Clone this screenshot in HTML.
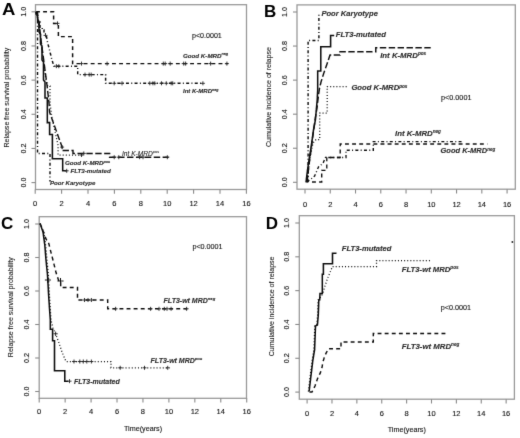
<!DOCTYPE html>
<html><head><meta charset="utf-8"><style>
html,body{margin:0;padding:0;background:#fff;}
svg{display:block;}
text{font-family:"Liberation Sans", sans-serif;}
.tk{font-size:7.5px;fill:#141414;stroke:#141414;stroke-width:0.12px;}
.tt{font-size:7.05px;fill:#141414;stroke:#141414;stroke-width:0.08px;}
.lt{font-size:17px;font-weight:bold;fill:#000;}
.cl{font-weight:bold;font-style:italic;fill:#2e2e2e;stroke:#2e2e2e;stroke-width:0.14px;}
</style></head><body>
<svg width="520" height="438" viewBox="0 0 520 438">
<defs><filter id="bl" x="0" y="0" width="520" height="438" filterUnits="userSpaceOnUse"><feConvolveMatrix order="3" kernelMatrix="0.0074 0.0713 0.0074 0.0713 0.6853 0.0713 0.0074 0.0713 0.0074" edgeMode="none"/></filter></defs>
<rect width="520" height="438" fill="#fff"/>
<g filter="url(#bl)">
<rect x="35.5" y="4.7" width="211.00" height="184.80" fill="none" stroke="#9a9a9a" stroke-width="1.3"/>
<line x1="31.50" y1="182.60" x2="35.50" y2="182.60" stroke="#8a8a8a" stroke-width="1.1"/>
<text x="23.60" y="182.60" transform="rotate(-90 23.60 182.60)" class="tk" style="font-size:7.2px" text-anchor="middle" dy="0.36em">0<tspan fill-opacity="0.25">.</tspan>0</text>
<line x1="31.50" y1="148.44" x2="35.50" y2="148.44" stroke="#8a8a8a" stroke-width="1.1"/>
<text x="23.60" y="148.44" transform="rotate(-90 23.60 148.44)" class="tk" style="font-size:7.2px" text-anchor="middle" dy="0.36em">0<tspan fill-opacity="0.25">.</tspan>2</text>
<line x1="31.50" y1="114.28" x2="35.50" y2="114.28" stroke="#8a8a8a" stroke-width="1.1"/>
<text x="23.60" y="114.28" transform="rotate(-90 23.60 114.28)" class="tk" style="font-size:7.2px" text-anchor="middle" dy="0.36em">0<tspan fill-opacity="0.25">.</tspan>4</text>
<line x1="31.50" y1="80.12" x2="35.50" y2="80.12" stroke="#8a8a8a" stroke-width="1.1"/>
<text x="23.60" y="80.12" transform="rotate(-90 23.60 80.12)" class="tk" style="font-size:7.2px" text-anchor="middle" dy="0.36em">0<tspan fill-opacity="0.25">.</tspan>6</text>
<line x1="31.50" y1="45.96" x2="35.50" y2="45.96" stroke="#8a8a8a" stroke-width="1.1"/>
<text x="23.60" y="45.96" transform="rotate(-90 23.60 45.96)" class="tk" style="font-size:7.2px" text-anchor="middle" dy="0.36em">0<tspan fill-opacity="0.25">.</tspan>8</text>
<line x1="31.50" y1="11.80" x2="35.50" y2="11.80" stroke="#8a8a8a" stroke-width="1.1"/>
<text x="23.60" y="11.80" transform="rotate(-90 23.60 11.80)" class="tk" style="font-size:7.2px" text-anchor="middle" dy="0.36em">1<tspan fill-opacity="0.25">.</tspan>0</text>
<line x1="35.20" y1="189.50" x2="35.20" y2="193.80" stroke="#8a8a8a" stroke-width="1.1"/>
<text x="35.20" y="203.40" class="tk" text-anchor="middle" dy="0.36em">0</text>
<line x1="61.60" y1="189.50" x2="61.60" y2="193.80" stroke="#8a8a8a" stroke-width="1.1"/>
<text x="61.60" y="203.40" class="tk" text-anchor="middle" dy="0.36em">2</text>
<line x1="88.00" y1="189.50" x2="88.00" y2="193.80" stroke="#8a8a8a" stroke-width="1.1"/>
<text x="88.00" y="203.40" class="tk" text-anchor="middle" dy="0.36em">4</text>
<line x1="114.40" y1="189.50" x2="114.40" y2="193.80" stroke="#8a8a8a" stroke-width="1.1"/>
<text x="114.40" y="203.40" class="tk" text-anchor="middle" dy="0.36em">6</text>
<line x1="140.80" y1="189.50" x2="140.80" y2="193.80" stroke="#8a8a8a" stroke-width="1.1"/>
<text x="140.80" y="203.40" class="tk" text-anchor="middle" dy="0.36em">8</text>
<line x1="167.20" y1="189.50" x2="167.20" y2="193.80" stroke="#8a8a8a" stroke-width="1.1"/>
<text x="167.20" y="203.40" class="tk" text-anchor="middle" dy="0.36em">10</text>
<line x1="193.60" y1="189.50" x2="193.60" y2="193.80" stroke="#8a8a8a" stroke-width="1.1"/>
<text x="193.60" y="203.40" class="tk" text-anchor="middle" dy="0.36em">12</text>
<line x1="220.00" y1="189.50" x2="220.00" y2="193.80" stroke="#8a8a8a" stroke-width="1.1"/>
<text x="220.00" y="203.40" class="tk" text-anchor="middle" dy="0.36em">14</text>
<line x1="246.40" y1="189.50" x2="246.40" y2="193.80" stroke="#8a8a8a" stroke-width="1.1"/>
<text x="246.40" y="203.40" class="tk" text-anchor="middle" dy="0.36em">16</text>
<text x="6.30" y="97.60" transform="rotate(-90 6.30 97.60)" class="tt" text-anchor="middle" dy="0.36em">Relapse free survival probability</text>
<text x="0" y="0" class="lt" transform="translate(2.00 15.00) scale(1.09 1)">A</text>
<path d="M36 11.8H53.6V23.4H58.4V36.6H72.6V63.6H228" fill="none" stroke="#111" stroke-width="1.45" stroke-dasharray="3.9 3.2"/>
<path d="M55.50 23.40H59.50M57.50 21.40V25.40" stroke="#222" stroke-width="0.9" fill="none"/>
<path d="M79.50 63.60H83.50M81.50 61.60V65.60" stroke="#222" stroke-width="0.9" fill="none"/>
<path d="M105.10 63.60H109.10M107.10 61.60V65.60" stroke="#222" stroke-width="0.9" fill="none"/>
<path d="M161.30 63.60H165.30M163.30 61.60V65.60" stroke="#222" stroke-width="0.9" fill="none"/>
<path d="M163.20 63.60H167.20M165.20 61.60V65.60" stroke="#222" stroke-width="0.9" fill="none"/>
<path d="M168.20 63.60H172.20M170.20 61.60V65.60" stroke="#222" stroke-width="0.9" fill="none"/>
<path d="M181.70 63.60H185.70M183.70 61.60V65.60" stroke="#222" stroke-width="0.9" fill="none"/>
<path d="M183.60 63.60H187.60M185.60 61.60V65.60" stroke="#222" stroke-width="0.9" fill="none"/>
<path d="M208.60 63.60H212.60M210.60 61.60V65.60" stroke="#222" stroke-width="0.9" fill="none"/>
<path d="M224.90 63.60H228.90M226.90 61.60V65.60" stroke="#222" stroke-width="0.9" fill="none"/>
<path d="M36 11.8V16H38V22H40V28H42.2V30H44V34H46.3V35.5L47.5 42L49 48L50.5 54L52 60L53.9 66.2H77.7V74.6H105.6V83.3H203" fill="none" stroke="#111" stroke-width="1.45" stroke-dasharray="3 2.3 1 2.3"/>
<path d="M43.50 35.40H47.50M45.50 33.40V37.40" stroke="#222" stroke-width="0.9" fill="none"/>
<path d="M54.40 66.20H58.40M56.40 64.20V68.20" stroke="#222" stroke-width="0.9" fill="none"/>
<path d="M56.80 66.20H60.80M58.80 64.20V68.20" stroke="#222" stroke-width="0.9" fill="none"/>
<path d="M83.00 74.60H87.00M85.00 72.60V76.60" stroke="#222" stroke-width="0.9" fill="none"/>
<path d="M87.20 74.60H91.20M89.20 72.60V76.60" stroke="#222" stroke-width="0.9" fill="none"/>
<path d="M89.20 74.60H93.20M91.20 72.60V76.60" stroke="#222" stroke-width="0.9" fill="none"/>
<path d="M112.20 83.30H116.20M114.20 81.30V85.30" stroke="#222" stroke-width="0.9" fill="none"/>
<path d="M120.00 83.30H124.00M122.00 81.30V85.30" stroke="#222" stroke-width="0.9" fill="none"/>
<path d="M147.80 83.30H151.80M149.80 81.30V85.30" stroke="#222" stroke-width="0.9" fill="none"/>
<path d="M150.90 83.30H154.90M152.90 81.30V85.30" stroke="#222" stroke-width="0.9" fill="none"/>
<path d="M152.80 83.30H156.80M154.80 81.30V85.30" stroke="#222" stroke-width="0.9" fill="none"/>
<path d="M159.50 83.30H163.50M161.50 81.30V85.30" stroke="#222" stroke-width="0.9" fill="none"/>
<path d="M164.30 83.30H168.30M166.30 81.30V85.30" stroke="#222" stroke-width="0.9" fill="none"/>
<path d="M169.20 83.30H173.20M171.20 81.30V85.30" stroke="#222" stroke-width="0.9" fill="none"/>
<path d="M170.70 83.30H174.70M172.70 81.30V85.30" stroke="#222" stroke-width="0.9" fill="none"/>
<path d="M200.90 83.30H204.90M202.90 81.30V85.30" stroke="#222" stroke-width="0.9" fill="none"/>
<path d="M37.5 11.8V153.5H50V181.5" fill="none" stroke="#111" stroke-width="1.45" stroke-dasharray="3 2.3 1 2.3"/>
<path d="M36 11.8L37.5 14V20L39 22V32L40.5 34V44L42 46V60L43.5 62V80L45 82V98H47.3V122.6H49.6V134.5H52.4V158.7H62.7V170.8H66.7" fill="none" stroke="#111" stroke-width="1.55"/>
<path d="M64.70 170.80H68.70M66.70 168.80V172.80" stroke="#222" stroke-width="0.9" fill="none"/>
<path d="M36 11.8L38 20L40 35L42 50L44 65L46 80L47.7 86H50V98L50 103L51.8 116.8L58.1 145.4V155H82.7" fill="none" stroke="#111" stroke-width="1.25" stroke-dasharray="1 2.1"/>
<path d="M79.50 155.00H83.50M81.50 153.00V157.00" stroke="#222" stroke-width="0.9" fill="none"/>
<path d="M36 11.8L39 22L41 40L43 55L45 70L47 85L49 103L49.6 112.3L62.1 147.1V150.5H73V153.4H109.6V157.2H168.5" fill="none" stroke="#111" stroke-width="1.45" stroke-dasharray="6.4 2.5"/>
<path d="M60.10 147.10H64.10M62.10 145.10V149.10" stroke="#222" stroke-width="0.9" fill="none"/>
<path d="M81.80 153.40H85.80M83.80 151.40V155.40" stroke="#222" stroke-width="0.9" fill="none"/>
<path d="M112.20 157.20H116.20M114.20 155.20V159.20" stroke="#222" stroke-width="0.9" fill="none"/>
<path d="M116.80 157.20H120.80M118.80 155.20V159.20" stroke="#222" stroke-width="0.9" fill="none"/>
<path d="M137.60 157.20H141.60M139.60 155.20V159.20" stroke="#222" stroke-width="0.9" fill="none"/>
<path d="M141.00 157.20H145.00M143.00 155.20V159.20" stroke="#222" stroke-width="0.9" fill="none"/>
<path d="M165.30 157.20H169.30M167.30 155.20V159.20" stroke="#222" stroke-width="0.9" fill="none"/>
<text x="183.00" y="55.40" dy="0.36em" class="cl" style="font-size:6.2px;">Good K-MRD<tspan style="font-size:3.72px" dy="-2.17">neg</tspan></text>
<text x="183.00" y="91.20" dy="0.36em" class="cl" style="font-size:6.0px;">Int K-MRD<tspan style="font-size:3.60px" dy="-2.10">neg</tspan></text>
<text x="122.00" y="153.20" dy="0.36em" class="cl" style="font-size:6.6px;font-weight:normal;fill:#2a2a2a;stroke:#2a2a2a;stroke-width:0.1px">Int K-MRD<tspan style="font-size:3.96px" dy="-2.31">pos</tspan></text>
<text x="65.00" y="162.60" dy="0.36em" class="cl" style="font-size:6.2px;">Good K-MRD<tspan style="font-size:3.72px" dy="-2.17">pos</tspan></text>
<text x="70.40" y="171.20" dy="0.36em" class="cl" style="font-size:6.2px;">FLT3-mutated</text>
<text x="50.00" y="182.60" dy="0.36em" class="cl" style="font-size:6.1px;">Poor Karyotype</text>
<text x="192.00" y="35.80" dy="0.36em" class="tk" text-anchor="start" style="font-size:7.1px">p&lt;0.0001</text>
<rect x="297.0" y="4.9" width="218.30" height="184.30" fill="none" stroke="#9a9a9a" stroke-width="1.3"/>
<line x1="293.00" y1="182.30" x2="297.00" y2="182.30" stroke="#8a8a8a" stroke-width="1.1"/>
<text x="284.90" y="182.30" transform="rotate(-90 284.90 182.30)" class="tk" style="font-size:7.2px" text-anchor="middle" dy="0.36em">0<tspan fill-opacity="0.25">.</tspan>0</text>
<line x1="293.00" y1="148.24" x2="297.00" y2="148.24" stroke="#8a8a8a" stroke-width="1.1"/>
<text x="284.90" y="148.24" transform="rotate(-90 284.90 148.24)" class="tk" style="font-size:7.2px" text-anchor="middle" dy="0.36em">0<tspan fill-opacity="0.25">.</tspan>2</text>
<line x1="293.00" y1="114.18" x2="297.00" y2="114.18" stroke="#8a8a8a" stroke-width="1.1"/>
<text x="284.90" y="114.18" transform="rotate(-90 284.90 114.18)" class="tk" style="font-size:7.2px" text-anchor="middle" dy="0.36em">0<tspan fill-opacity="0.25">.</tspan>4</text>
<line x1="293.00" y1="80.12" x2="297.00" y2="80.12" stroke="#8a8a8a" stroke-width="1.1"/>
<text x="284.90" y="80.12" transform="rotate(-90 284.90 80.12)" class="tk" style="font-size:7.2px" text-anchor="middle" dy="0.36em">0<tspan fill-opacity="0.25">.</tspan>6</text>
<line x1="293.00" y1="46.06" x2="297.00" y2="46.06" stroke="#8a8a8a" stroke-width="1.1"/>
<text x="284.90" y="46.06" transform="rotate(-90 284.90 46.06)" class="tk" style="font-size:7.2px" text-anchor="middle" dy="0.36em">0<tspan fill-opacity="0.25">.</tspan>8</text>
<line x1="293.00" y1="12.00" x2="297.00" y2="12.00" stroke="#8a8a8a" stroke-width="1.1"/>
<text x="284.90" y="12.00" transform="rotate(-90 284.90 12.00)" class="tk" style="font-size:7.2px" text-anchor="middle" dy="0.36em">1<tspan fill-opacity="0.25">.</tspan>0</text>
<line x1="305.00" y1="189.20" x2="305.00" y2="193.50" stroke="#8a8a8a" stroke-width="1.1"/>
<text x="305.00" y="203.80" class="tk" text-anchor="middle" dy="0.36em">0</text>
<line x1="330.26" y1="189.20" x2="330.26" y2="193.50" stroke="#8a8a8a" stroke-width="1.1"/>
<text x="330.26" y="203.80" class="tk" text-anchor="middle" dy="0.36em">2</text>
<line x1="355.52" y1="189.20" x2="355.52" y2="193.50" stroke="#8a8a8a" stroke-width="1.1"/>
<text x="355.52" y="203.80" class="tk" text-anchor="middle" dy="0.36em">4</text>
<line x1="380.78" y1="189.20" x2="380.78" y2="193.50" stroke="#8a8a8a" stroke-width="1.1"/>
<text x="380.78" y="203.80" class="tk" text-anchor="middle" dy="0.36em">6</text>
<line x1="406.04" y1="189.20" x2="406.04" y2="193.50" stroke="#8a8a8a" stroke-width="1.1"/>
<text x="406.04" y="203.80" class="tk" text-anchor="middle" dy="0.36em">8</text>
<line x1="431.30" y1="189.20" x2="431.30" y2="193.50" stroke="#8a8a8a" stroke-width="1.1"/>
<text x="431.30" y="203.80" class="tk" text-anchor="middle" dy="0.36em">10</text>
<line x1="456.56" y1="189.20" x2="456.56" y2="193.50" stroke="#8a8a8a" stroke-width="1.1"/>
<text x="456.56" y="203.80" class="tk" text-anchor="middle" dy="0.36em">12</text>
<line x1="481.82" y1="189.20" x2="481.82" y2="193.50" stroke="#8a8a8a" stroke-width="1.1"/>
<text x="481.82" y="203.80" class="tk" text-anchor="middle" dy="0.36em">14</text>
<line x1="507.08" y1="189.20" x2="507.08" y2="193.50" stroke="#8a8a8a" stroke-width="1.1"/>
<text x="507.08" y="203.80" class="tk" text-anchor="middle" dy="0.36em">16</text>
<text x="268.60" y="97.10" transform="rotate(-90 268.60 97.10)" class="tt" text-anchor="middle" dy="0.36em">Cumulative incidence of relapse</text>
<text x="264.00" y="17.00" class="lt">B</text>
<path d="M308.1 182.3V40.4H318.9V12.7" fill="none" stroke="#111" stroke-width="1.45" stroke-dasharray="3 2.3 1 2.3"/>
<path d="M306 182.3L307.5 170L309 160L311 148L313.5 130L315.4 120L316.3 110L317.2 100L317.7 90V71H320.8V46.8H330.6V35.5H334.2" fill="none" stroke="#111" stroke-width="1.55"/>
<path d="M307 182.3L309 165L311 150L313 135L315 120L317 108L318.5 95L319.5 88.4L321 82L323.6 73.7L327 64L330 55H340V51.8H375.8V47.7H431.5" fill="none" stroke="#111" stroke-width="1.45" stroke-dasharray="6.4 2.5"/>
<path d="M307 182.3L309 165L311 152L313 143L316 139.6H319.7V113H327.2V86.5H346.8" fill="none" stroke="#111" stroke-width="1.25" stroke-dasharray="1 2.1"/>
<path d="M312 182H321.7V170.3H326.8V157.5H340.2V144H487.3" fill="none" stroke="#111" stroke-width="1.35" stroke-dasharray="3.9 3.2"/>
<path d="M307 182L311 179L314.6 176L318.5 167L323 163.3L325.5 157.5H346V150.2H373.3V141.6H462.5" fill="none" stroke="#111" stroke-width="1.35" stroke-dasharray="3 2.3 1 2.3"/>
<text x="321.40" y="13.20" dy="0.36em" class="cl" style="font-size:7.6px;">Poor Karyotype</text>
<text x="335.70" y="34.60" dy="0.36em" class="cl" style="font-size:7.7px;">FLT3-mutated</text>
<text x="380.20" y="55.20" dy="0.36em" class="cl" style="font-size:7.8px;">Int K-MRD<tspan style="font-size:4.68px" dy="-2.73">pos</tspan></text>
<text x="351.40" y="87.70" dy="0.36em" class="cl" style="font-size:7.7px;">Good K-MRD<tspan style="font-size:4.62px" dy="-2.69">pos</tspan></text>
<text x="395.00" y="132.70" dy="0.36em" class="cl" style="font-size:7.8px;">Int K-MRD<tspan style="font-size:4.68px" dy="-2.73">neg</tspan></text>
<text x="440.50" y="150.70" dy="0.36em" class="cl" style="font-size:7.5px;">Good K-MRD<tspan style="font-size:4.50px" dy="-2.62">neg</tspan></text>
<text x="441.00" y="96.90" dy="0.36em" class="tk" text-anchor="start" style="font-size:7.25px">p&lt;0.0001</text>
<rect x="39.2" y="216.7" width="207.30" height="181.60" fill="none" stroke="#9a9a9a" stroke-width="1.3"/>
<line x1="35.20" y1="391.50" x2="39.20" y2="391.50" stroke="#8a8a8a" stroke-width="1.1"/>
<text x="26.90" y="391.50" transform="rotate(-90 26.90 391.50)" class="tk" style="font-size:7.2px" text-anchor="middle" dy="0.36em">0<tspan fill-opacity="0.25">.</tspan>0</text>
<line x1="35.20" y1="358.00" x2="39.20" y2="358.00" stroke="#8a8a8a" stroke-width="1.1"/>
<text x="26.90" y="358.00" transform="rotate(-90 26.90 358.00)" class="tk" style="font-size:7.2px" text-anchor="middle" dy="0.36em">0<tspan fill-opacity="0.25">.</tspan>2</text>
<line x1="35.20" y1="324.50" x2="39.20" y2="324.50" stroke="#8a8a8a" stroke-width="1.1"/>
<text x="26.90" y="324.50" transform="rotate(-90 26.90 324.50)" class="tk" style="font-size:7.2px" text-anchor="middle" dy="0.36em">0<tspan fill-opacity="0.25">.</tspan>4</text>
<line x1="35.20" y1="291.00" x2="39.20" y2="291.00" stroke="#8a8a8a" stroke-width="1.1"/>
<text x="26.90" y="291.00" transform="rotate(-90 26.90 291.00)" class="tk" style="font-size:7.2px" text-anchor="middle" dy="0.36em">0<tspan fill-opacity="0.25">.</tspan>6</text>
<line x1="35.20" y1="257.50" x2="39.20" y2="257.50" stroke="#8a8a8a" stroke-width="1.1"/>
<text x="26.90" y="257.50" transform="rotate(-90 26.90 257.50)" class="tk" style="font-size:7.2px" text-anchor="middle" dy="0.36em">0<tspan fill-opacity="0.25">.</tspan>8</text>
<line x1="35.20" y1="224.00" x2="39.20" y2="224.00" stroke="#8a8a8a" stroke-width="1.1"/>
<text x="26.90" y="224.00" transform="rotate(-90 26.90 224.00)" class="tk" style="font-size:7.2px" text-anchor="middle" dy="0.36em">1<tspan fill-opacity="0.25">.</tspan>0</text>
<line x1="39.20" y1="398.30" x2="39.20" y2="402.60" stroke="#8a8a8a" stroke-width="1.1"/>
<text x="39.20" y="411.60" class="tk" text-anchor="middle" dy="0.36em">0</text>
<line x1="65.14" y1="398.30" x2="65.14" y2="402.60" stroke="#8a8a8a" stroke-width="1.1"/>
<text x="65.14" y="411.60" class="tk" text-anchor="middle" dy="0.36em">2</text>
<line x1="91.08" y1="398.30" x2="91.08" y2="402.60" stroke="#8a8a8a" stroke-width="1.1"/>
<text x="91.08" y="411.60" class="tk" text-anchor="middle" dy="0.36em">4</text>
<line x1="117.02" y1="398.30" x2="117.02" y2="402.60" stroke="#8a8a8a" stroke-width="1.1"/>
<text x="117.02" y="411.60" class="tk" text-anchor="middle" dy="0.36em">6</text>
<line x1="142.96" y1="398.30" x2="142.96" y2="402.60" stroke="#8a8a8a" stroke-width="1.1"/>
<text x="142.96" y="411.60" class="tk" text-anchor="middle" dy="0.36em">8</text>
<line x1="168.90" y1="398.30" x2="168.90" y2="402.60" stroke="#8a8a8a" stroke-width="1.1"/>
<text x="168.90" y="411.60" class="tk" text-anchor="middle" dy="0.36em">10</text>
<line x1="194.84" y1="398.30" x2="194.84" y2="402.60" stroke="#8a8a8a" stroke-width="1.1"/>
<text x="194.84" y="411.60" class="tk" text-anchor="middle" dy="0.36em">12</text>
<line x1="220.78" y1="398.30" x2="220.78" y2="402.60" stroke="#8a8a8a" stroke-width="1.1"/>
<text x="220.78" y="411.60" class="tk" text-anchor="middle" dy="0.36em">14</text>
<line x1="246.72" y1="398.30" x2="246.72" y2="402.60" stroke="#8a8a8a" stroke-width="1.1"/>
<text x="246.72" y="411.60" class="tk" text-anchor="middle" dy="0.36em">16</text>
<text x="10.60" y="307.20" transform="rotate(-90 10.60 307.20)" class="tt" text-anchor="middle" dy="0.36em">Relapse free survival probability</text>
<text x="1.00" y="229.00" class="lt">C</text>
<path d="M40 223.5L41.5 227L43.3 231.7L46 239L48.8 243.6L50.6 250.9L53.4 261.8L56.1 272.8L58.8 281H60.7V287.4H77.5V300H107.7V308.7H188.3" fill="none" stroke="#111" stroke-width="1.45" stroke-dasharray="3.9 3.2"/>
<path d="M57.50 281.00H63.50M60.50 278.00V284.00" stroke="#111" stroke-width="1.0" fill="none"/>
<path d="M82.50 300.00H86.50M84.50 298.00V302.00" stroke="#222" stroke-width="0.9" fill="none"/>
<path d="M86.00 300.00H90.00M88.00 298.00V302.00" stroke="#222" stroke-width="0.9" fill="none"/>
<path d="M89.40 300.00H93.40M91.40 298.00V302.00" stroke="#222" stroke-width="0.9" fill="none"/>
<path d="M113.60 308.80H117.60M115.60 306.80V310.80" stroke="#222" stroke-width="0.9" fill="none"/>
<path d="M148.60 308.80H152.60M150.60 306.80V310.80" stroke="#222" stroke-width="0.9" fill="none"/>
<path d="M157.00 308.80H161.00M159.00 306.80V310.80" stroke="#222" stroke-width="0.9" fill="none"/>
<path d="M162.30 308.80H166.30M164.30 306.80V310.80" stroke="#222" stroke-width="0.9" fill="none"/>
<path d="M165.00 308.80H169.00M167.00 306.80V310.80" stroke="#222" stroke-width="0.9" fill="none"/>
<path d="M169.10 308.80H173.10M171.10 306.80V310.80" stroke="#222" stroke-width="0.9" fill="none"/>
<path d="M184.60 308.80H188.60M186.60 306.80V310.80" stroke="#222" stroke-width="0.9" fill="none"/>
<path d="M40 223.5L43.8 232L45.6 245L47 260L48.4 275L49.6 298L51 320L53 328L55.6 333.8L59 343L62 352L66 361.5H111V367.8H169.4" fill="none" stroke="#111" stroke-width="1.25" stroke-dasharray="1 2.1"/>
<path d="M44.90 280.00H50.90M47.90 277.00V283.00" stroke="#111" stroke-width="1.0" fill="none"/>
<path d="M53.40 333.80H57.80M55.60 331.60V336.00" stroke="#222" stroke-width="0.9" fill="none"/>
<path d="M72.00 361.50H76.00M74.00 359.50V363.50" stroke="#222" stroke-width="0.9" fill="none"/>
<path d="M77.80 361.50H81.80M79.80 359.50V363.50" stroke="#222" stroke-width="0.9" fill="none"/>
<path d="M81.30 361.50H85.30M83.30 359.50V363.50" stroke="#222" stroke-width="0.9" fill="none"/>
<path d="M84.80 361.50H88.80M86.80 359.50V363.50" stroke="#222" stroke-width="0.9" fill="none"/>
<path d="M89.40 361.50H93.40M91.40 359.50V363.50" stroke="#222" stroke-width="0.9" fill="none"/>
<path d="M118.20 367.80H122.20M120.20 365.80V369.80" stroke="#222" stroke-width="0.9" fill="none"/>
<path d="M142.50 367.80H146.50M144.50 365.80V369.80" stroke="#222" stroke-width="0.9" fill="none"/>
<path d="M165.70 367.80H169.70M167.70 365.80V369.80" stroke="#222" stroke-width="0.9" fill="none"/>
<path d="M40 223.5L43 232L44.8 245L46 260L47.5 275L48.8 298L50.3 320V329.2H52.6V340.8H54.5V370.8H64.8V381.2H68.3" fill="none" stroke="#111" stroke-width="1.55"/>
<path d="M67.50 381.20H71.50M69.50 379.20V383.20" stroke="#222" stroke-width="0.9" fill="none"/>
<text x="192.40" y="246.50" dy="0.36em" class="tk" text-anchor="start" style="font-size:7.2px">p&lt;0.0001</text>
<text x="163.60" y="300.30" dy="0.36em" class="cl" style="font-size:7.0px;">FLT3-wt MRD<tspan style="font-size:4.20px" dy="-2.45">neg</tspan></text>
<text x="150.60" y="360.30" dy="0.36em" class="cl" style="font-size:7.0px;">FLT3-wt MRD<tspan style="font-size:4.20px" dy="-2.45">pos</tspan></text>
<text x="74.00" y="381.80" dy="0.36em" class="cl" style="font-size:7.0px;">FLT3-mutated</text>
<text x="143.00" y="428.80" dy="0.36em" class="tk" text-anchor="middle" style="font-size:7.2px">Time(years)</text>
<rect x="299.3" y="215.7" width="215.10" height="183.50" fill="none" stroke="#9a9a9a" stroke-width="1.3"/>
<line x1="295.30" y1="392.10" x2="299.30" y2="392.10" stroke="#8a8a8a" stroke-width="1.1"/>
<text x="286.80" y="392.10" transform="rotate(-90 286.80 392.10)" class="tk" style="font-size:7.2px" text-anchor="middle" dy="0.36em">0<tspan fill-opacity="0.25">.</tspan>0</text>
<line x1="295.30" y1="358.28" x2="299.30" y2="358.28" stroke="#8a8a8a" stroke-width="1.1"/>
<text x="286.80" y="358.28" transform="rotate(-90 286.80 358.28)" class="tk" style="font-size:7.2px" text-anchor="middle" dy="0.36em">0<tspan fill-opacity="0.25">.</tspan>2</text>
<line x1="295.30" y1="324.46" x2="299.30" y2="324.46" stroke="#8a8a8a" stroke-width="1.1"/>
<text x="286.80" y="324.46" transform="rotate(-90 286.80 324.46)" class="tk" style="font-size:7.2px" text-anchor="middle" dy="0.36em">0<tspan fill-opacity="0.25">.</tspan>4</text>
<line x1="295.30" y1="290.64" x2="299.30" y2="290.64" stroke="#8a8a8a" stroke-width="1.1"/>
<text x="286.80" y="290.64" transform="rotate(-90 286.80 290.64)" class="tk" style="font-size:7.2px" text-anchor="middle" dy="0.36em">0<tspan fill-opacity="0.25">.</tspan>6</text>
<line x1="295.30" y1="256.82" x2="299.30" y2="256.82" stroke="#8a8a8a" stroke-width="1.1"/>
<text x="286.80" y="256.82" transform="rotate(-90 286.80 256.82)" class="tk" style="font-size:7.2px" text-anchor="middle" dy="0.36em">0<tspan fill-opacity="0.25">.</tspan>8</text>
<line x1="295.30" y1="223.00" x2="299.30" y2="223.00" stroke="#8a8a8a" stroke-width="1.1"/>
<text x="286.80" y="223.00" transform="rotate(-90 286.80 223.00)" class="tk" style="font-size:7.2px" text-anchor="middle" dy="0.36em">1<tspan fill-opacity="0.25">.</tspan>0</text>
<line x1="307.10" y1="399.20" x2="307.10" y2="403.50" stroke="#8a8a8a" stroke-width="1.1"/>
<text x="307.10" y="413.00" class="tk" text-anchor="middle" dy="0.36em">0</text>
<line x1="331.98" y1="399.20" x2="331.98" y2="403.50" stroke="#8a8a8a" stroke-width="1.1"/>
<text x="331.98" y="413.00" class="tk" text-anchor="middle" dy="0.36em">2</text>
<line x1="356.86" y1="399.20" x2="356.86" y2="403.50" stroke="#8a8a8a" stroke-width="1.1"/>
<text x="356.86" y="413.00" class="tk" text-anchor="middle" dy="0.36em">4</text>
<line x1="381.74" y1="399.20" x2="381.74" y2="403.50" stroke="#8a8a8a" stroke-width="1.1"/>
<text x="381.74" y="413.00" class="tk" text-anchor="middle" dy="0.36em">6</text>
<line x1="406.62" y1="399.20" x2="406.62" y2="403.50" stroke="#8a8a8a" stroke-width="1.1"/>
<text x="406.62" y="413.00" class="tk" text-anchor="middle" dy="0.36em">8</text>
<line x1="431.50" y1="399.20" x2="431.50" y2="403.50" stroke="#8a8a8a" stroke-width="1.1"/>
<text x="431.50" y="413.00" class="tk" text-anchor="middle" dy="0.36em">10</text>
<line x1="456.38" y1="399.20" x2="456.38" y2="403.50" stroke="#8a8a8a" stroke-width="1.1"/>
<text x="456.38" y="413.00" class="tk" text-anchor="middle" dy="0.36em">12</text>
<line x1="481.26" y1="399.20" x2="481.26" y2="403.50" stroke="#8a8a8a" stroke-width="1.1"/>
<text x="481.26" y="413.00" class="tk" text-anchor="middle" dy="0.36em">14</text>
<line x1="506.14" y1="399.20" x2="506.14" y2="403.50" stroke="#8a8a8a" stroke-width="1.1"/>
<text x="506.14" y="413.00" class="tk" text-anchor="middle" dy="0.36em">16</text>
<text x="271.20" y="306.40" transform="rotate(-90 271.20 306.40)" class="tt" text-anchor="middle" dy="0.36em">Cumulative incidence of relapse</text>
<text x="265.80" y="229.00" class="lt">D</text>
<path d="M309.1 391.5L311 375.3L312.8 360.7L314.6 349.7L315.5 326L317.4 325L318.3 315L318.8 300L319.7 299.8L320 293.4H322.3V274.2H323.4V263.8H332.5V253.2H336.5" fill="none" stroke="#111" stroke-width="1.55"/>
<path d="M308.4 391.5L310.3 375.3L312.1 360.7L313.9 349.7L314.8 326L316.7 325L317.6 315L318.1 300L319 299.8L322.8 293.4L324.7 287L327.4 278.8L332.5 266.5H376.5V260.5H431.2" fill="none" stroke="#111" stroke-width="1.25" stroke-dasharray="1 2.1"/>
<path d="M309.5 392H312L315 386L317.4 379L320.1 373.4L321.9 368L322.8 362.5L324.7 356L328.3 348.8H341V342H373.3V333.4H448.5" fill="none" stroke="#111" stroke-width="1.45" stroke-dasharray="3.9 3.2"/>
<path d="M511.40 242.00H513.40M512.40 241.00V243.00" stroke="#222" stroke-width="0.9" fill="none"/>
<text x="341.80" y="248.00" dy="0.36em" class="cl" style="font-size:7.6px;">FLT3-mutated</text>
<text x="401.80" y="269.20" dy="0.36em" class="cl" style="font-size:7.7px;">FLT3-wt MRD<tspan style="font-size:4.62px" dy="-2.69">pos</tspan></text>
<text x="401.80" y="345.80" dy="0.36em" class="cl" style="font-size:7.8px;">FLT3-wt MRD<tspan style="font-size:4.68px" dy="-2.73">neg</tspan></text>
<text x="440.80" y="307.70" dy="0.36em" class="tk" text-anchor="start" style="font-size:7.2px">p&lt;0.0001</text>
<text x="406.80" y="429.30" dy="0.36em" class="tk" text-anchor="middle" style="font-size:7.2px">Time(years)</text>
</g>
</svg>
</body></html>
